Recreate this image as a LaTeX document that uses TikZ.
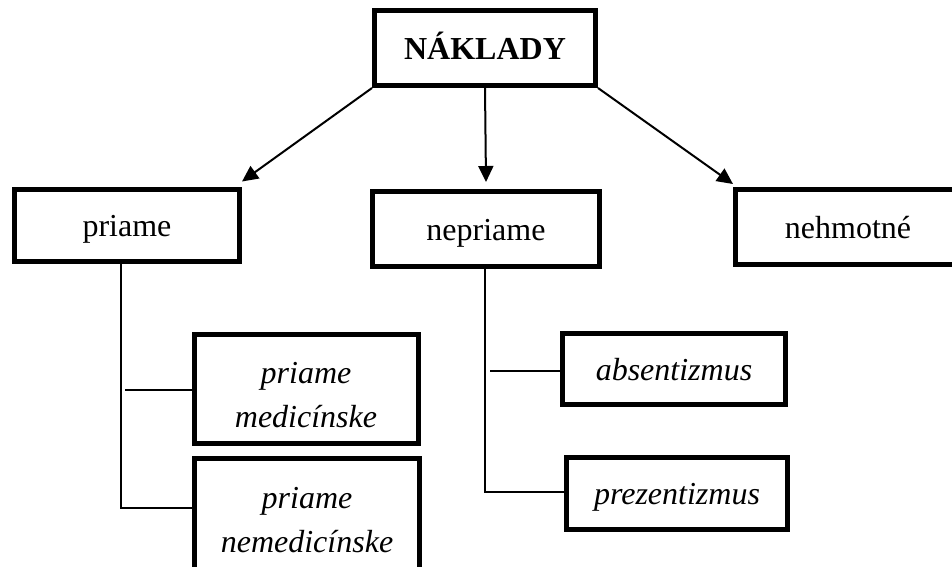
\documentclass[tikz,border=0pt]{standalone}
\usepackage{fontspec}
\setmainfont{Liberation Serif}
\usepackage{tikz}
\usetikzlibrary{shapes,arrows.meta}

\begin{document}
\begin{tikzpicture}[x=1pt, y=-1pt,
    box/.style={draw, line width=5pt, rectangle, align=center, inner sep=0pt,
      text height=22pt, text depth=0pt, font=\fontsize{32}{44}\selectfont},
    subbox/.style={box, font=\fontsize{32}{44}\selectfont\itshape},
    twoline/.style={subbox, text height=76pt},
    link/.style={line width=2pt},
    arrow/.style={link, -{Triangle[length=16pt, width=15pt]}}]
    \useasboundingbox (0,0) rectangle (952,566);

    % boxes
    \node[box, minimum width=221pt, minimum height=75pt,
      font=\fontsize{32}{44}\selectfont\bfseries] (naklady) at (485,48) {NÁKLADY};
    \node[box, minimum width=225pt, minimum height=72pt] (priame) at (127,225) {priame};
    \node[box, minimum width=227pt, minimum height=75pt] (nepriame) at (486,229) {nepriame};
    \node[box, minimum width=225pt, minimum height=75pt] (nehmotne) at (848,227) {nehmotné};

    % sub boxes
    \node[twoline, minimum width=224pt, minimum height=109pt] (medicinske) at (306,389) {priame\\medicínske};
    \node[twoline, minimum width=225pt, minimum height=111pt] (nemedicinske) at (307,514) {priame\\nemedicínske};
    \node[subbox, minimum width=223pt, minimum height=71pt] (absentizmus) at (674,369) {absentizmus};
    \node[subbox, minimum width=221pt, minimum height=72pt] (prezentizmus) at (677,493) {prezentizmus};

    % arrows
    \draw[arrow] (naklady.south west) -- ([yshift=5pt]priame.north east);
    \draw[arrow] (naklady.south) -- ([yshift=7pt]nepriame.north);
    \draw[arrow] (naklady.south east) -- ([yshift=3pt]nehmotne.north west);

    % branches
    \coordinate (pmed) at (125,390);
    \coordinate (pnemed) at (121,508);
    \draw[link] (priame.south -| pnemed) -- (pnemed) -- (pnemed -| nemedicinske.west);
    \draw[link] (pmed) -- (pmed -| medicinske.west);

    \coordinate (nabs) at (490,371);
    \coordinate (nprez) at (485,492);
    \draw[link] (nepriame.south -| nprez) -- (nprez) -- (nprez -| prezentizmus.west);
    \draw[link] (nabs) -- (nabs -| absentizmus.west);
\end{tikzpicture}
\end{document}
